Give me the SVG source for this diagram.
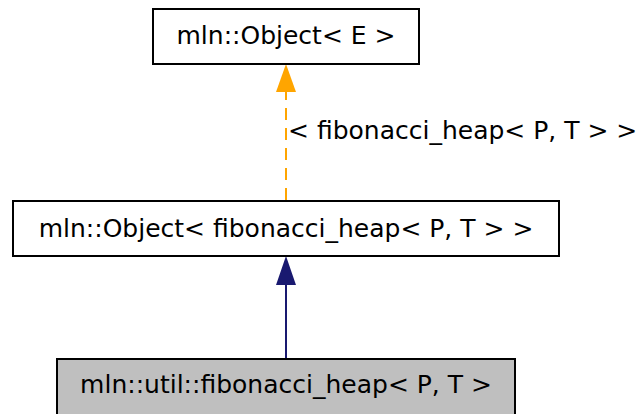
<svg xmlns="http://www.w3.org/2000/svg" width="643" height="414" viewBox="0 0 643 414">
<style>
.n{fill:#fff;stroke:#000;stroke-width:2}
.t{font-family:"DejaVu Sans",sans-serif;font-size:25px;fill:#000;text-anchor:middle}
</style>
<rect width="643" height="414" fill="#fff"/>
<g id="connectors">
<line x1="286" y1="200" x2="286" y2="90" stroke="#ffa500" stroke-width="2" stroke-dasharray="12,8"/>
<polygon points="286,64 276,92 296,92" fill="#ffa500"/>
<text x="288" y="139" style="font-family:'DejaVu Sans',sans-serif;font-size:25px">&lt; fibonacci_heap&lt; P, T &gt; &gt;</text>
<line x1="286" y1="358" x2="286" y2="283" stroke="#191970" stroke-width="2"/>
<polygon points="286,256 276,285 296,285" fill="#191970"/>
</g>
<g id="node1">
<rect class="n" x="153" y="9" width="266" height="55"/>
<text class="t" x="286" y="44">mln::Object&lt; E &gt;</text>
</g>
<g id="node2">
<rect class="n" x="13" y="201" width="546" height="55"/>
<text class="t" x="286" y="237">mln::Object&lt; fibonacci_heap&lt; P, T &gt; &gt;</text>
</g>
<g id="node3">
<rect class="n" x="57" y="359" width="458" height="56" style="fill:#bfbfbf"/>
<text class="t" x="286" y="393">mln::util::fibonacci_heap&lt; P, T &gt;</text>
</g>
</svg>
